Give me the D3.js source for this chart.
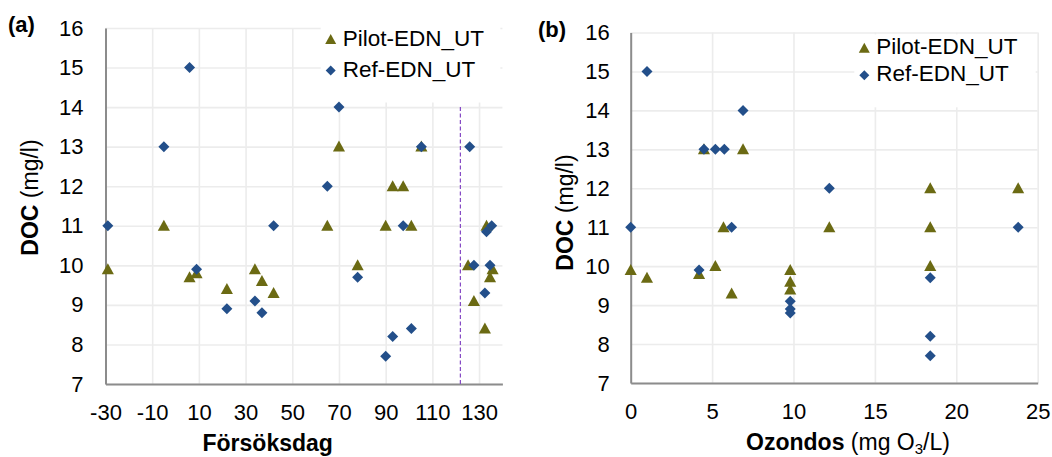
<!DOCTYPE html>
<html>
<head>
<meta charset="utf-8">
<script src="https://cdn.jsdelivr.net/npm/d3@7"></script>
<style>
    body { margin: 0; background: #fff; }
    svg { display: block; font-family: "Liberation Sans", Arial, sans-serif; }
    .tick text { font-size: 22px; fill: #000; }
</style>
</head>
<body>
<svg width="1052" height="457"></svg>
<script>
// panel (a): DOC vs trial day
const dayTicks = [-30, -10, 10, 30, 50, 70, 90, 110, 130];
const pilotDay = [-29, -5, 6, 9, 22, 34, 37, 42, 65, 70, 78, 90, 93, 97.5, 101, 105.3, 125.3, 127.8, 132.5, 133.2, 134.7, 135.8];
const pilotDayDoc = [9.9, 11, 9.7, 9.8, 9.4, 9.9, 9.6, 9.3, 11, 13, 10, 11, 12, 12, 11, 13, 10, 9.1, 8.4, 11, 9.7, 9.9];
const refDay = [-29, -5, 6, 9, 22, 34, 37, 42, 65, 70, 78, 90, 93, 97.5, 101, 105.3, 126, 127.8, 132.5, 133.2, 134.7, 135.4];
const refDayDoc = [11, 13, 15, 9.9, 8.9, 9.1, 8.8, 11, 12, 14, 9.7, 7.7, 8.2, 11, 8.4, 13, 13, 10, 9.3, 10.85, 10, 11];
const switchDay = 122;
const switchTop = 14;

// panel (b): DOC vs ozone dose
const doseTicks = [0, 5, 10, 15, 20, 25];
const pilotDose = [0, 1, 4.2, 4.5, 5.2, 5.7, 6.2, 6.9, 9.8, 9.8, 9.8, 12.2, 18.4, 18.4, 18.4, 23.8];
const pilotDoseDoc = [9.9, 9.7, 9.8, 13, 10, 11, 9.3, 13, 9.9, 9.6, 9.4, 11, 12, 11, 10, 12];
const refDose = [0, 1, 4.2, 4.5, 5.2, 5.75, 6.2, 6.9, 9.8, 9.8, 9.8, 12.2, 18.4, 18.4, 18.4, 23.8];
const refDoseDoc = [11, 15, 9.9, 13, 13, 13, 11, 14, 9.1, 8.9, 8.8, 12, 9.7, 8.2, 7.7, 11];

const docTicks = [7, 8, 9, 10, 11, 12, 13, 14, 15, 16];
const seriesNames = ["Pilot-EDN_UT", "Ref-EDN_UT"];

const pilotColor = "#6b6a13";
const refColor = "#234f8a";
const gridColor = "#ececec";
const axisColor = "#8c8c8c";

const svg = d3.select("svg");

const triangle = (cx, cy, s) => `M${cx},${cy - s * 0.55}L${cx + s * 0.55},${cy + s * 0.45}L${cx - s * 0.55},${cy + s * 0.45}Z`;
const diamond = (cx, cy, s) => `M${cx},${cy - s * 0.5}L${cx + s * 0.5},${cy}L${cx},${cy + s * 0.5}L${cx - s * 0.5},${cy}Z`;

function panel (cfg) {
    const x = d3.scaleLinear().domain(cfg.xDomain).range(cfg.xRange);
    const y = d3.scaleLinear().domain([7, 16]).range(cfg.yRange);
    const g = svg.append("g");

    // grid
    g.append("g")
        .attr("transform", `translate(0, ${cfg.yRange[0]})`)
        .call(d3.axisBottom(x).tickValues(cfg.xTicks).tickSize(-(cfg.yRange[0] - cfg.yRange[1])).tickFormat(""))
        .call(s => s.select(".domain").remove())
        .call(s => s.selectAll("line").attr("stroke", gridColor).attr("stroke-width", 1.6));
    g.append("g")
        .attr("transform", `translate(${cfg.xRange[0]}, 0)`)
        .call(d3.axisLeft(y).tickValues(docTicks).tickSize(-(cfg.xRange[1] - cfg.xRange[0])).tickFormat(""))
        .call(s => s.select(".domain").remove())
        .call(s => s.selectAll("line").attr("stroke", gridColor).attr("stroke-width", 1.6));

    // legend background hides grid behind it
    g.append("rect")
        .attr("x", cfg.legend.x - 10).attr("y", cfg.legend.y - 20)
        .attr("width", cfg.xRange[1] - cfg.legend.x + 8)
        .attr("height", cfg.legend.dy + 46)
        .attr("fill", "#fff");

    // axes (plain hyphen for negatives, like the source)
    g.append("g")
        .attr("transform", `translate(0, ${cfg.yRange[0]})`)
        .call(d3.axisBottom(x).tickValues(cfg.xTicks).tickSize(0).tickPadding(20).tickFormat(d => String(d)))
        .call(s => s.select(".domain").attr("stroke", axisColor).attr("stroke-width", 2));
    g.append("g")
        .attr("transform", `translate(${cfg.xRange[0]}, 0)`)
        .call(d3.axisLeft(y).tickValues(docTicks).tickSize(0).tickPadding(cfg.yPad))
        .call(s => s.select(".domain").attr("stroke", axisColor).attr("stroke-width", 2));

    if (cfg.extra) cfg.extra(g, x, y);

    // points
    g.append("g").selectAll("path")
        .data(cfg.pilotX.map((d, i) => [d, cfg.pilotY[i]]))
        .join("path")
        .attr("d", d => triangle(x(d[0]), y(d[1]), 11))
        .attr("fill", pilotColor);
    g.append("g").selectAll("path")
        .data(cfg.refX.map((d, i) => [d, cfg.refY[i]]))
        .join("path")
        .attr("d", d => diamond(x(d[0]), y(d[1]), 11))
        .attr("fill", refColor);

    // legend
    const lg = g.append("g").attr("transform", `translate(${cfg.legend.x}, ${cfg.legend.y})`);
    lg.append("path").attr("d", triangle(0, -6, 10)).attr("fill", pilotColor);
    lg.append("path").attr("d", diamond(0, cfg.legend.dy - 6, 10)).attr("fill", refColor);
    lg.selectAll("text")
        .data(seriesNames)
        .join("text")
        .attr("x", 12)
        .attr("y", (d, i) => i * cfg.legend.dy)
        .attr("font-size", 22.5)
        .text(d => d);

    // panel tag
    g.append("text")
        .attr("x", cfg.tag.x).attr("y", cfg.tag.y)
        .attr("font-size", 22).attr("font-weight", "bold")
        .text(cfg.tag.text);

    // y title
    const yt = g.append("text")
        .attr("transform", `translate(${cfg.yTitle.x}, ${cfg.yTitle.y}) rotate(-90)`)
        .attr("text-anchor", "middle")
        .attr("font-size", 23);
    yt.append("tspan").attr("font-weight", "bold").text("DOC");
    yt.append("tspan").text(" (mg/l)");

    return { g, x, y };
}

panel({
    xDomain: [-30, 140], xRange: [105.5, 502.4], yRange: [384, 28],
    xTicks: dayTicks, yPad: 22,
    pilotX: pilotDay, pilotY: pilotDayDoc, refX: refDay, refY: refDayDoc,
    legend: { x: 330.7, y: 45.5, dy: 31 },
    tag: { x: 8, y: 32, text: "(a)" },
    yTitle: { x: 38, y: 197.5 },
    extra: (g, x, y) => {
        g.append("line")
            .attr("x1", x(switchDay)).attr("x2", x(switchDay))
            .attr("y1", y(switchTop)).attr("y2", y(7))
            .attr("stroke", "#8447c4").attr("stroke-width", 1.2)
            .attr("stroke-dasharray", "4,2.5");
        g.append("text")
            .attr("x", 267.7).attr("y", 451)
            .attr("text-anchor", "middle")
            .attr("font-size", 23).attr("font-weight", "bold")
            .text("Försöksdag");
    }
});

panel({
    xDomain: [0, 25], xRange: [630.7, 1037.7], yRange: [383, 32.5],
    xTicks: doseTicks, yPad: 21,
    pilotX: pilotDose, pilotY: pilotDoseDoc, refX: refDose, refY: refDoseDoc,
    legend: { x: 864.3, y: 54.3, dy: 27 },
    tag: { x: 538, y: 37, text: "(b)" },
    yTitle: { x: 573, y: 212.5 },
    extra: (g) => {
        const t = g.append("text")
            .attr("x", 848).attr("y", 450)
            .attr("text-anchor", "middle")
            .attr("font-size", 23);
        t.append("tspan").attr("font-weight", "bold").text("Ozondos");
        t.append("tspan").text(" (mg O");
        t.append("tspan").attr("font-size", 15).attr("dy", 4).text("3");
        t.append("tspan").attr("dy", -4).text("/L)");
    }
});
</script>
</body>
</html>
